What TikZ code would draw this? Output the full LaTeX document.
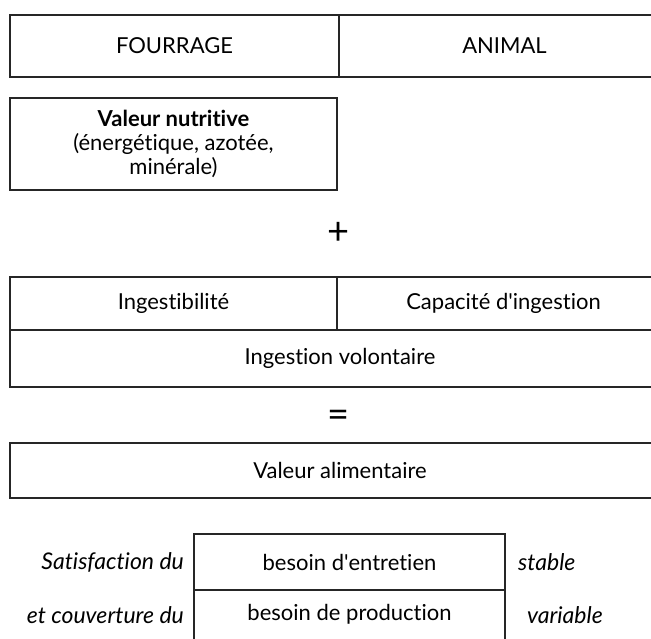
\documentclass[tikz,border=0pt]{standalone}
\usepackage{fontspec}
\setmainfont{Lato}[RawFeature=-liga]
\begin{document}
\begin{tikzpicture}[x=1pt,y=-1pt,
  box/.style={draw=black!85,line width=1.1pt,rectangle,inner sep=0pt,outer sep=0pt,anchor=north west,align=center,font=\fontsize{22}{24}\selectfont},
  lbl/.style={inner sep=0pt,font=\fontsize{23}{24}\selectfont\itshape},
  sym/.style={inner sep=0pt,font=\fontsize{38}{38}\selectfont}]
\useasboundingbox (0,0) rectangle (651,639);
\clip (0,0) rectangle (651,639);
% top row
\node[box,minimum width=329pt,minimum height=62pt] (fourrage) at (10,15) {FOURRAGE};
\node[box,minimum width=331pt,minimum height=62pt] (animal) at (339,15) {ANIMAL};
% nutritive value
\node[box,minimum width=327pt,minimum height=92pt] (nutritive) at (10,98)
  {\textbf{Valeur nutritive}\\(énergétique, azotée,\\minérale)};
\node[sym] (plus) at (339,233) {+};
% ingestion
\node[box,minimum width=327pt,minimum height=53pt] (ingest) at (10,277) {Ingestibilité};
\node[box,minimum width=333pt,minimum height=53pt] (capacite) at (337,277) {Capacité d\textquotesingle ingestion};
\node[box,minimum width=660pt,minimum height=57pt] (volontaire) at (10,330) {Ingestion volontaire};
\node[sym] (egal) at (339,419) {=};
\node[box,minimum width=660pt,minimum height=55pt] (alimentaire) at (10,443) {Valeur alimentaire};
% needs
\node[box,minimum width=311pt,minimum height=56pt] (entretien) at (194,534) {besoin d\textquotesingle entretien};
\node[box,minimum width=311pt,minimum height=70pt] (production) at (194,590) {};
\node[font=\fontsize{22}{24}\selectfont,inner sep=0pt] (prodtxt) at (349.5,614) {besoin de production};
\node[lbl,anchor=east] (satis) at (184,562) {Satisfaction du};
\node[lbl,anchor=east] (couv) at (184,615) {et couverture du};
\node[lbl,anchor=west] (stable) at (518,562) {stable};
\node[lbl,anchor=west] (variable) at (527,615) {variable};
\end{tikzpicture}
\end{document}
